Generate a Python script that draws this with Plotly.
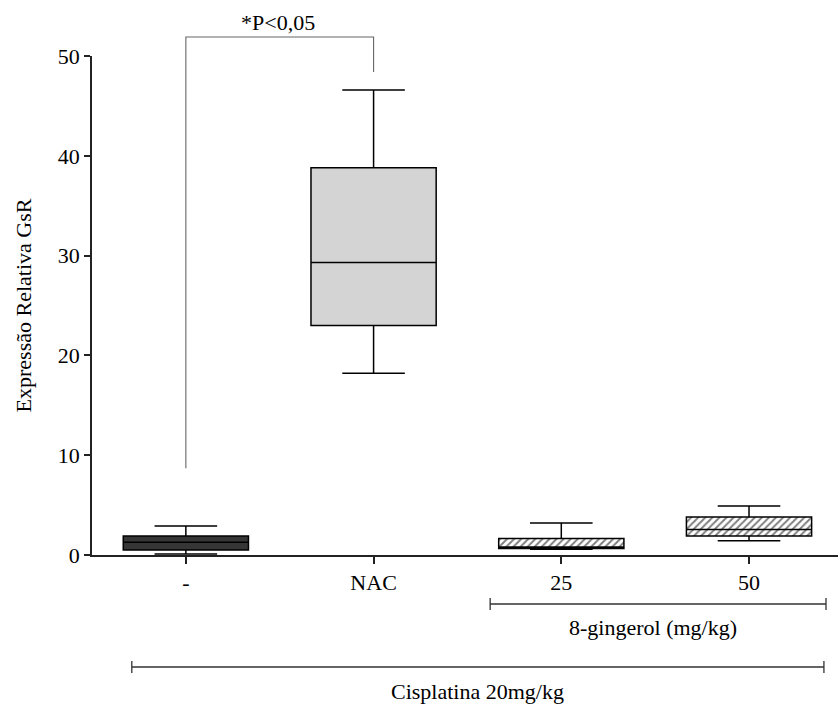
import plotly.graph_objects as go

# ---- data ----
categories = ["-", "NAC", "25", "50"]
upper_whisker = [2.9, 46.6, 3.2, 4.9]
q3_values = [1.9, 38.8, 1.65, 3.8]
medians = [1.27, 29.3, 0.8, 2.55]
q1_values = [0.5, 23.0, 0.65, 1.9]
lower_whisker = [0.1, 18.2, 0.57, 1.43]
fill_colors = ["#363636", "#d4d4d4", "rgba(0,0,0,0)", "rgba(0,0,0,0)"]
hatched_groups = ["25", "50"]

sig_left_bottom = 8.7
sig_top = 51.9
sig_right_bottom = 48.4
sig_label = "*P<0,05"
y_max = 50
y_ticks = [0, 10, 20, 30, 40, 50]

FONT = "Liberation Serif"
BOX_W = 0.667

fig = go.Figure()

# hatched boxes (pattern fill) drawn as bars under the box outlines
hq1 = [q1_values[categories.index(c)] for c in hatched_groups]
hq3 = [q3_values[categories.index(c)] for c in hatched_groups]
fig.add_trace(go.Bar(
    x=hatched_groups, base=hq1, y=[b - a for a, b in zip(hq1, hq3)],
    width=BOX_W,
    marker=dict(color="white", line=dict(width=0),
                pattern=dict(shape="/", fgcolor="#000000", bgcolor="white",
                             size=5, solidity=0.4)),
    showlegend=False, hoverinfo="skip",
))

for i, c in enumerate(categories):
    fig.add_trace(go.Box(
        x=[c],
        q1=[q1_values[i]], median=[medians[i]], q3=[q3_values[i]],
        lowerfence=[lower_whisker[i]], upperfence=[upper_whisker[i]],
        fillcolor=fill_colors[i],
        line=dict(color="black", width=1.5),
        width=BOX_W, whiskerwidth=0.5,
        showlegend=False,
    ))

shapes = []
# significance bracket
sig_col = "#666666"
shapes.append(dict(type="path", xref="x", yref="paper",
                   path=f"M 0,{sig_left_bottom / y_max} L 0,{sig_top / y_max} "
                        f"L 1,{sig_top / y_max} L 1,{sig_right_bottom / y_max}",
                   line=dict(color=sig_col, width=1.1)))

# group brackets below axis
def bracket(x0, x1, yp):
    return dict(type="path", xref="x", yref="paper",
                path=f"M {x0},{yp + 0.012} L {x0},{yp - 0.012} M {x0},{yp} L {x1},{yp} "
                     f"M {x1},{yp + 0.012} L {x1},{yp - 0.012}",
                line=dict(color="#333333", width=1.3))

shapes.append(bracket(1.621, 3.41, -0.0982))
shapes.append(bracket(-0.288, 3.399, -0.2244))

annotations = [
    dict(text=sig_label, x=0.49, xref="x", y=1.068, yref="paper", showarrow=False,
         font=dict(family=FONT, size=22, color="black"), xanchor="center", yanchor="middle"),
    dict(text="8-gingerol (mg/kg)", x=2.49, xref="x", y=-0.146, yref="paper", showarrow=False,
         font=dict(family=FONT, size=22, color="black"), xanchor="center", yanchor="middle"),
    dict(text="Cisplatina 20mg/kg", x=1.555, xref="x", y=-0.2745, yref="paper", showarrow=False,
         font=dict(family=FONT, size=22, color="black"), xanchor="center", yanchor="middle"),
]

fig.update_layout(
    width=838, height=707,
    margin=dict(l=92, r=0, t=56, b=152),
    paper_bgcolor="white", plot_bgcolor="white",
    boxmode="overlay",
    showlegend=False,
    shapes=shapes, annotations=annotations,
    font=dict(family=FONT, size=22, color="black"),
    xaxis=dict(type="category", categoryorder="array", categoryarray=categories,
               range=[-0.5, 3.474], showline=True, linecolor="#222222", linewidth=1.5,
               ticks="outside", ticklen=7, tickwidth=1.5, tickcolor="#222222",
               showgrid=False, zeroline=False,
               tickfont=dict(family=FONT, size=22, color="black")),
    yaxis=dict(range=[0, y_max], tickvals=y_ticks, showline=True, linecolor="#222222",
               linewidth=1.5, ticks="outside", ticklen=6, tickwidth=1.5, tickcolor="#222222",
               showgrid=False, zeroline=False,
               tickfont=dict(family=FONT, size=22, color="black"),
               title=dict(text="Expressão Relativa GsR", standoff=20,
                          font=dict(family=FONT, size=22, color="black"))),
)

fig.write_html("out.html")
